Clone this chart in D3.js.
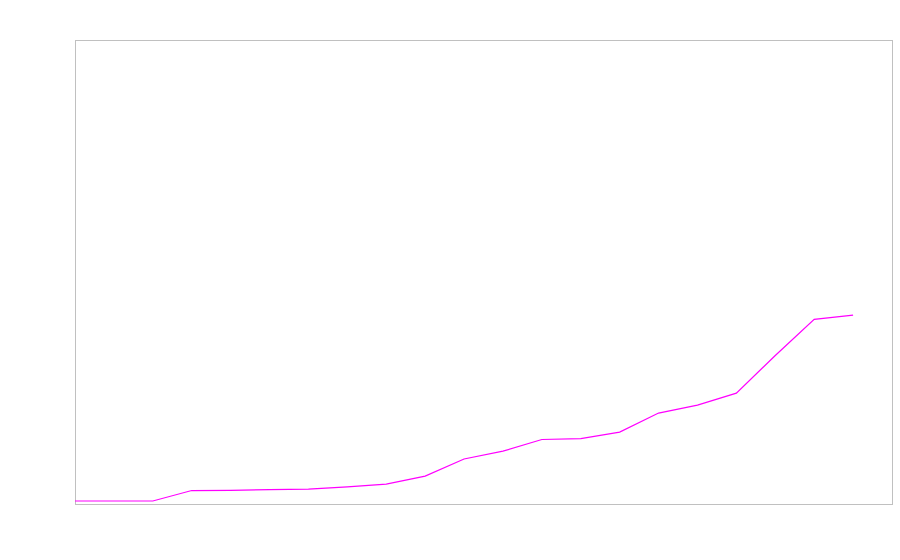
<html>
<head>
<script src="https://d3js.org/d3.v7.min.js"></script>
<style>
  body { margin: 0; background: #fff; }
  svg { font-family: "DejaVu Sans", sans-serif; }
  .frame { fill: none; stroke: #c0c0c0; stroke-width: 1; }
  .line { fill: none; stroke: #ff00ff; stroke-width: 1.2; }
</style>
</head>
<body>
<div id="chart"></div>
<script>
// values (0-100 scale)
var steps = d3.range(0, 21);
var values = [0.65, 0.65, 0.65, 2.9, 2.95, 3.1, 3.2, 3.7, 4.3, 6.0, 9.7, 11.4,
              13.9, 14.1, 15.5, 19.6, 21.3, 23.9, 32.0, 39.8, 40.7];

var width = 900, height = 560;
var margin = {top: 40, right: 8, bottom: 56, left: 75};

var svg = d3.select("#chart").append("svg")
  .attr("width", width)
  .attr("height", height);

var x = d3.scaleLinear()
  .domain([0, 21])
  .range([margin.left, width - margin.right]);

var y = d3.scaleLinear()
  .domain([0, 100])
  .range([height - margin.bottom, margin.top]);

/* frame */
svg.append("rect")
  .attr("class", "frame")
  .attr("x", margin.left + 0.5)
  .attr("y", margin.top + 0.5)
  .attr("width", width - margin.left - margin.right)
  .attr("height", height - margin.top - margin.bottom);

var line = d3.line()
  .x(function(d, i) { return x(steps[i]); })
  .y(function(d) { return y(d); });

svg.append("path")
  .datum(values)
  .attr("class", "line")
  .attr("d", line);
</script>
</body>
</html>
